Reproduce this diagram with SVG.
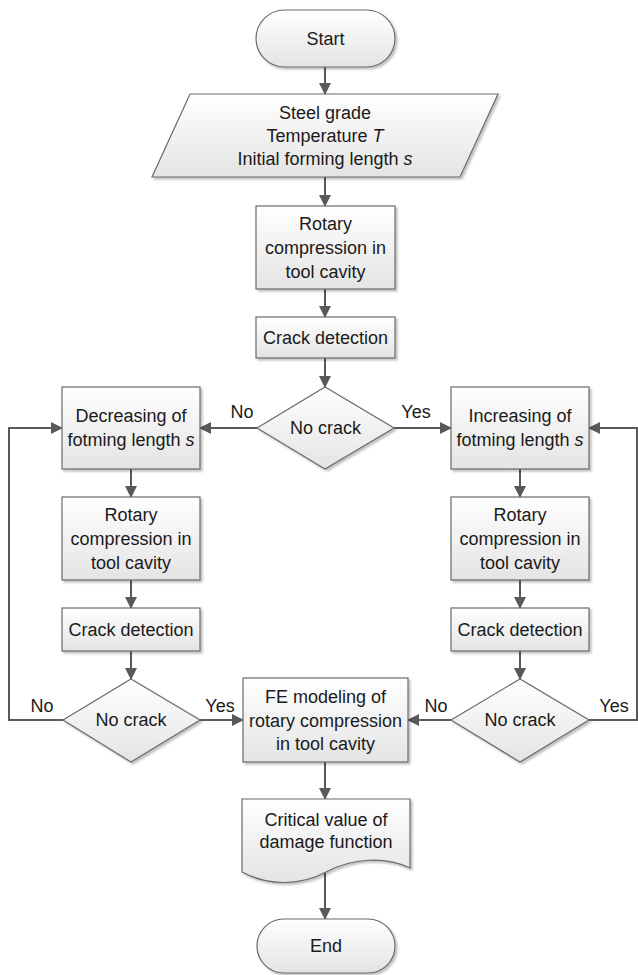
<svg xmlns="http://www.w3.org/2000/svg" width="638" height="975" viewBox="0 0 638 975">
<defs>
<linearGradient id="g" x1="0" y1="0" x2="0" y2="1">
<stop offset="0" stop-color="#ffffff"/>
<stop offset="1" stop-color="#e4e4e4"/>
</linearGradient>
<filter id="sh" x="-10%" y="-10%" width="130%" height="130%">
<feDropShadow dx="2" dy="2" stdDeviation="1.2" flood-color="#000" flood-opacity="0.25"/>
</filter>
<marker id="ah" markerWidth="12" markerHeight="12" viewBox="0 0 12 12" refX="11" refY="6" orient="auto" markerUnits="userSpaceOnUse">
<path d="M0,0 L12,6 L0,12 Z" fill="#595959"/>
</marker>
</defs>
<style>
.shape{fill:url(#g);stroke:#6a6a6a;stroke-width:1.2;filter:url(#sh)}
.t{font-family:"Liberation Sans",Arial,sans-serif;font-size:18px;fill:#1a1a1a;text-anchor:middle}
.lbl{font-family:"Liberation Sans",Arial,sans-serif;font-size:18px;fill:#1a1a1a;text-anchor:middle}
.c{fill:none;stroke:#595959;stroke-width:2;marker-end:url(#ah)}
.cn{fill:none;stroke:#595959;stroke-width:2}
</style>
<rect width="638" height="975" fill="#ffffff"/>

<g id="connectors">
<path class="c" d="M325,67 V94"/>
<path class="c" d="M325,177 V206"/>
<path class="c" d="M325,289 V317"/>
<path class="c" d="M325,358 V387"/>
<path class="c" d="M257,428 H200"/>
<path class="c" d="M394,428 H451"/>
<path class="c" d="M131,469 V497"/>
<path class="c" d="M131,580 V608"/>
<path class="c" d="M131,651 V679"/>
<path class="c" d="M200,720 H243"/>
<path class="c" d="M63,720 H9 V428 H62"/>
<path class="c" d="M520,469 V497"/>
<path class="c" d="M520,580 V608"/>
<path class="c" d="M520,651 V679"/>
<path class="c" d="M451,720 H408"/>
<path class="c" d="M589,720 H637 V428 H589"/>
<path class="c" d="M325,762 V799"/>
<path class="c" d="M325,873 V919"/>
<text class="lbl" x="242" y="418">No</text>
<text class="lbl" x="416" y="418">Yes</text>
<text class="lbl" x="42" y="712">No</text>
<text class="lbl" x="220" y="712">Yes</text>
<text class="lbl" x="436" y="712">No</text>
<text class="lbl" x="614" y="712">Yes</text>
</g>

<g id="start">
<rect class="shape" x="256" y="10" width="139" height="57" rx="28.5" ry="28.5"/>
<text class="t" x="325.5" y="45">Start</text>
</g>

<g id="input">
<path class="shape" d="M190,94 H498 L460,177 H152 Z"/>
<text class="t" x="325" y="119">Steel grade</text>
<text class="t" x="325" y="142">Temperature <tspan font-style="italic">T</tspan></text>
<text class="t" x="325" y="165">Initial forming length <tspan font-style="italic">s</tspan></text>
</g>

<g id="rotary1">
<rect class="shape" x="256" y="206" width="139" height="83"/>
<text class="t" x="325.5" y="230">Rotary</text>
<text class="t" x="325.5" y="254">compression in</text>
<text class="t" x="325.5" y="278">tool cavity</text>
</g>

<g id="crack1">
<rect class="shape" x="256" y="317" width="139" height="41"/>
<text class="t" x="325.5" y="344">Crack detection</text>
</g>

<g id="decision1">
<path class="shape" d="M325,387 L394,428 L325,469 L257,428 Z"/>
<text class="t" x="325.5" y="434">No crack</text>
</g>

<g id="decreasing">
<rect class="shape" x="62" y="387" width="138" height="82"/>
<text class="t" x="131" y="422">Decreasing of</text>
<text class="t" x="131" y="446">fotming length <tspan font-style="italic">s</tspan></text>
</g>

<g id="increasing">
<rect class="shape" x="451" y="387" width="138" height="82"/>
<text class="t" x="520" y="422">Increasing of</text>
<text class="t" x="520" y="446">fotming length <tspan font-style="italic">s</tspan></text>
</g>

<g id="rotaryL">
<rect class="shape" x="62" y="497" width="138" height="83"/>
<text class="t" x="131" y="521">Rotary</text>
<text class="t" x="131" y="545">compression in</text>
<text class="t" x="131" y="569">tool cavity</text>
</g>

<g id="rotaryR">
<rect class="shape" x="451" y="497" width="138" height="83"/>
<text class="t" x="520" y="521">Rotary</text>
<text class="t" x="520" y="545">compression in</text>
<text class="t" x="520" y="569">tool cavity</text>
</g>

<g id="crackL">
<rect class="shape" x="62" y="608" width="138" height="43"/>
<text class="t" x="131" y="636">Crack detection</text>
</g>

<g id="crackR">
<rect class="shape" x="451" y="608" width="138" height="43"/>
<text class="t" x="520" y="636">Crack detection</text>
</g>

<g id="decisionL">
<path class="shape" d="M131,679 L200,720 L131,762 L63,720 Z"/>
<text class="t" x="131" y="726">No crack</text>
</g>

<g id="decisionR">
<path class="shape" d="M520,679 L589,720 L520,762 L451,720 Z"/>
<text class="t" x="520" y="726">No crack</text>
</g>

<g id="fe">
<rect class="shape" x="243" y="678" width="165" height="84"/>
<text class="t" x="325.5" y="703">FE modeling of</text>
<text class="t" x="325.5" y="727">rotary compression</text>
<text class="t" x="325.5" y="750">in tool cavity</text>
</g>

<g id="document">
<path class="shape" d="M242,799 H410 V868 C385,856 352,858 326,872 C300,886 268,886 242,872 Z"/>
<text class="t" x="326" y="826">Critical value of</text>
<text class="t" x="326" y="848">damage function</text>
</g>

<g id="end">
<rect class="shape" x="257" y="919" width="138" height="54" rx="27" ry="27"/>
<text class="t" x="326" y="952">End</text>
</g>
</svg>
